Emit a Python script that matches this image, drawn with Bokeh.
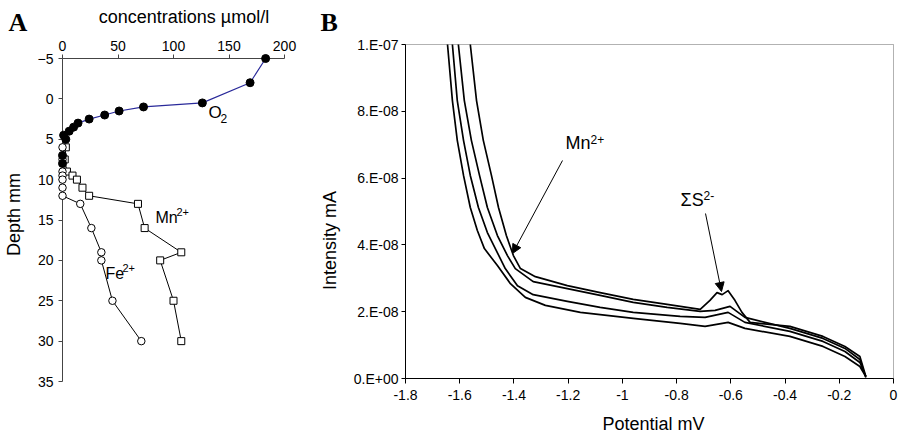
import math
from bokeh.plotting import figure
from bokeh.layouts import row
from bokeh.models import Label, Arrow, NormalHead, FixedTicker, Range1d, BoxAnnotation
from bokeh.embed import file_html
from bokeh.resources import INLINE

# ---------------- Panel A : depth profiles ----------------
o2_depth = [-5, -2, 0.5, 1, 1.5, 2, 2.5, 3, 3.5, 4, 4.5, 5, 7, 8]
o2_conc = [183, 169, 126, 73, 51, 38, 24, 14, 10, 6, 1, 3, 0, 0]

mn_depth = [6, 7.5, 9, 9.5, 10, 11, 12, 13, 16, 19, 20, 25, 30]
mn_conc = [3, 2, 4, 9, 13, 18, 24, 68, 74, 107, 88, 100, 107]

fe_depth = [6, 7.5, 9, 9.5, 10, 11, 12, 13, 16, 19, 20, 25, 30]
fe_conc = [0, 0, 0, 0, 0, 0, 0, 16, 26, 35, 35, 45, 71]

conc_ticks = [0, 50, 100, 150, 200]
depth_ticks = [-5, 0, 5, 10, 15, 20, 25, 30, 35]

# ---------------- Panel B : voltammograms ----------------
INT_UNIT = 1e-8  # intensities below are in units of 1e-8 mA

pot_a = [-1.645, -1.627, -1.609, -1.586, -1.561, -1.535, -1.509, -1.461, -1.413, -1.358, -1.284,
         -1.155, -0.960, -0.787, -0.695, -0.610, -0.548, -0.382, -0.260, -0.179, -0.124, -0.102]
int_a = [10.0, 8.32, 7.13, 6.08, 5.12, 4.43, 3.89, 3.38, 2.84, 2.43, 2.19,
         1.98, 1.80, 1.65, 1.56, 1.68, 1.50, 1.26, 0.96, 0.66, 0.36, 0.06]

pot_b = [-1.627, -1.609, -1.586, -1.561, -1.531, -1.498, -1.465, -1.432, -1.387, -1.329, -1.203,
         -1.082, -0.960, -0.787, -0.695, -0.610, -0.548, -0.382, -0.260, -0.179, -0.124, -0.102]
int_b = [10.0, 8.32, 7.13, 6.08, 5.12, 4.37, 3.83, 3.29, 2.78, 2.51, 2.31,
         2.13, 1.98, 1.86, 1.83, 1.98, 1.68, 1.41, 1.11, 0.81, 0.48, 0.06]

pot_c = [-1.605, -1.583, -1.557, -1.527, -1.498, -1.461, -1.424, -1.395, -1.329, -1.203, -1.082,
         -0.960, -0.835, -0.713, -0.658, -0.603, -0.548, -0.382, -0.260, -0.179, -0.124, -0.102]
int_c = [10.0, 8.32, 7.13, 6.08, 5.12, 4.28, 3.68, 3.29, 2.90, 2.69, 2.49,
         2.28, 2.13, 2.01, 2.04, 2.16, 1.83, 1.50, 1.20, 0.90, 0.57, 0.03]

pot_d = [-1.561, -1.538, -1.513, -1.483, -1.457, -1.428, -1.402, -1.376, -1.321, -1.203, -1.082,
         -0.960, -0.835, -0.713, -0.677, -0.651, -0.632, -0.610, -0.585, -0.559, -0.529, -0.382,
         -0.260, -0.179, -0.124, -0.102]
int_d = [10.0, 8.32, 7.13, 6.08, 5.12, 4.28, 3.68, 3.29, 3.05, 2.78, 2.57,
         2.37, 2.22, 2.07, 2.34, 2.57, 2.51, 2.63, 2.34, 1.98, 1.68, 1.56,
         1.26, 0.96, 0.66, 0.06]

pot_ticks = [-1.8, -1.6, -1.4, -1.2, -1.0, -0.8, -0.6, -0.4, -0.2, 0.0]
pot_tick_labels = ["-1.8", "-1.6", "-1.4", "-1.2", "-1", "-0.8", "-0.6", "-0.4", "-0.2", "0"]
int_ticks = [0.0, 2e-8, 4e-8, 6e-8, 8e-8, 1e-7]
int_tick_labels = ["0.E+00", "2.E-08", "4.E-08", "6.E-08", "8.E-08", "1.E-07"]

FONT = "Liberation Sans"
SERIF = "Liberation Serif"

# ---------------- pixel layout (page pixels) ----------------
H = 435
WA = 318            # panel A occupies x 0..318
WB = 580            # panel B occupies x 318..898
# panel A: conc 0 -> x 62, 200 -> x 284 ; depth -5 -> y 58, 35 -> y 381
A_X0, A_X1 = 62.0, 284.0
A_Y0, A_Y1 = 58.0, 381.0
sxa = (A_X1 - A_X0) / 200.0
sya = (A_Y1 - A_Y0) / 40.0
def ax(px): return (px - A_X0) / sxa
def ay(py): return -5 + (py - A_Y0) / sya
# panel B: potential -1.8 -> x 405, 0 -> x 893 ; intensity 0 -> y 378, 1e-7 -> y 44
B_X0, B_X1 = 405.0, 893.0
B_Y0, B_Y1 = 378.0, 44.0
sxb = (B_X1 - B_X0) / 1.8
syb = (B_Y0 - B_Y1) / 1e-7
def bx(px): return -1.8 + (px - B_X0) / sxb
def by(py): return (B_Y0 - py) / syb

def lab(p, x, y, text, size, font=FONT, style="normal", angle=0.0, align="left"):
    p.add_layout(Label(x=x, y=y, text=text, text_font=font, text_font_size=size,
                       text_font_style=style, angle=angle, text_align=align,
                       text_baseline="middle", text_color="black"))

def style_axis(ax_, color, tick_out, standoff):
    ax_.minor_tick_line_color = None
    ax_.major_tick_in = 0
    ax_.major_tick_out = tick_out
    ax_.axis_line_color = color
    ax_.major_tick_line_color = color
    ax_.major_label_text_font = FONT
    ax_.major_label_text_font_size = "14px"
    ax_.major_label_text_color = "black"
    ax_.major_label_standoff = standoff

# ======================= Figure A =======================
pA = figure(x_range=Range1d(ax(0), ax(WA)), y_range=Range1d(ay(H), ay(0)),
            x_axis_location="above", width=WA, height=H, min_border=0,
            toolbar_location=None, output_backend="svg", title=None)
pA.outline_line_color = None
pA.xgrid.visible = False
pA.ygrid.visible = False

xa = pA.xaxis[0]
xa.fixed_location = -5
xa.bounds = (0, 200)
xa.ticker = FixedTicker(ticks=conc_ticks)
style_axis(xa, "#444444", 4, 4)
ya = pA.yaxis[0]
ya.fixed_location = 0
ya.bounds = (-5, 35)
ya.ticker = FixedTicker(ticks=depth_ticks)
style_axis(ya, "#444444", 4, 5)

pA.line(o2_conc, o2_depth, line_color="#2a2a9a", line_width=1.2)
pA.line(mn_conc, mn_depth, line_color="black", line_width=1)
pA.line(fe_conc, fe_depth, line_color="black", line_width=1)
pA.scatter(mn_conc, mn_depth, marker="square", size=7, fill_color="white",
           line_color="black", line_width=1, level="overlay")
pA.scatter(fe_conc, fe_depth, marker="circle", size=7.5, fill_color="white",
           line_color="black", line_width=1, level="overlay")
pA.scatter(o2_conc, o2_depth, marker="circle", size=8, fill_color="black",
           line_color="black", level="overlay")

lab(pA, ax(8), ay(22), "A", "26px", font=SERIF, style="bold")
lab(pA, ax(186), ay(16), "concentrations  µmol/l", "18px", align="center")
lab(pA, ax(13), ay(214), "Depth mm", "18px", angle=math.pi / 2, align="center")
lab(pA, ax(208), ay(112), "O", "17px")
lab(pA, ax(220), ay(117.5), "2", "12px")
lab(pA, ax(155), ay(216.5), "Mn", "16px")
lab(pA, ax(176), ay(211.5), "2+", "11px")
lab(pA, ax(105), ay(272.5), "Fe", "16px")
lab(pA, ax(122), ay(267.5), "2+", "11px")

# ======================= Figure B =======================
pB = figure(x_range=Range1d(bx(WA), bx(WA + WB)), y_range=Range1d(by(H), by(0)),
            width=WB, height=H, min_border=0, toolbar_location=None,
            output_backend="svg", title=None)
pB.outline_line_color = None
pB.xgrid.visible = False
pB.ygrid.visible = False

bxa = pB.xaxis[0]
bxa.fixed_location = 0
bxa.bounds = (-1.8, 0)
bxa.ticker = FixedTicker(ticks=pot_ticks)
bxa.major_label_overrides = dict(zip(pot_ticks, pot_tick_labels))
style_axis(bxa, "black", 5, 6)
bya = pB.yaxis[0]
bya.fixed_location = -1.8
bya.bounds = (0, 1e-7)
bya.ticker = FixedTicker(ticks=int_ticks)
bya.major_label_overrides = dict(zip(int_ticks, int_tick_labels))
style_axis(bya, "black", 4, 3)

pB.add_layout(BoxAnnotation(left=-1.8, right=0, bottom=0, top=1e-7, fill_alpha=0,
                            line_color="black", line_width=1, level="underlay"))

for pots, ints in ((pot_a, int_a), (pot_b, int_b), (pot_c, int_c), (pot_d, int_d)):
    pB.line(pots, [v * INT_UNIT for v in ints], line_color="black", line_width=1.7,
            line_join="round")

lab(pB, bx(320), by(21.5), "B", "26px", font=SERIF, style="bold")
lab(pB, bx(329), by(240), "Intensity mA", "18px", angle=math.pi / 2, align="center")
lab(pB, bx(653), by(423.5), "Potential mV", "18px", align="center")
lab(pB, bx(565), by(142.5), "Mn", "18px")
lab(pB, bx(590), by(138.5), "2+", "12px")
lab(pB, bx(680), by(199), "ΣS", "18px")
lab(pB, bx(703), by(194.5), "2-", "12px")

pB.add_layout(Arrow(end=NormalHead(size=9, fill_color="black", line_color="black"),
                    x_start=bx(562), y_start=by(160), x_end=bx(512), y_end=by(253),
                    line_color="black", line_width=1))
pB.add_layout(Arrow(end=NormalHead(size=9, fill_color="black", line_color="black"),
                    x_start=bx(705), y_start=by(213), x_end=bx(721), y_end=by(291),
                    line_color="black", line_width=1))

layout = row(pA, pB, spacing=0)
open("out.html", "w").write(file_html(layout, INLINE))
